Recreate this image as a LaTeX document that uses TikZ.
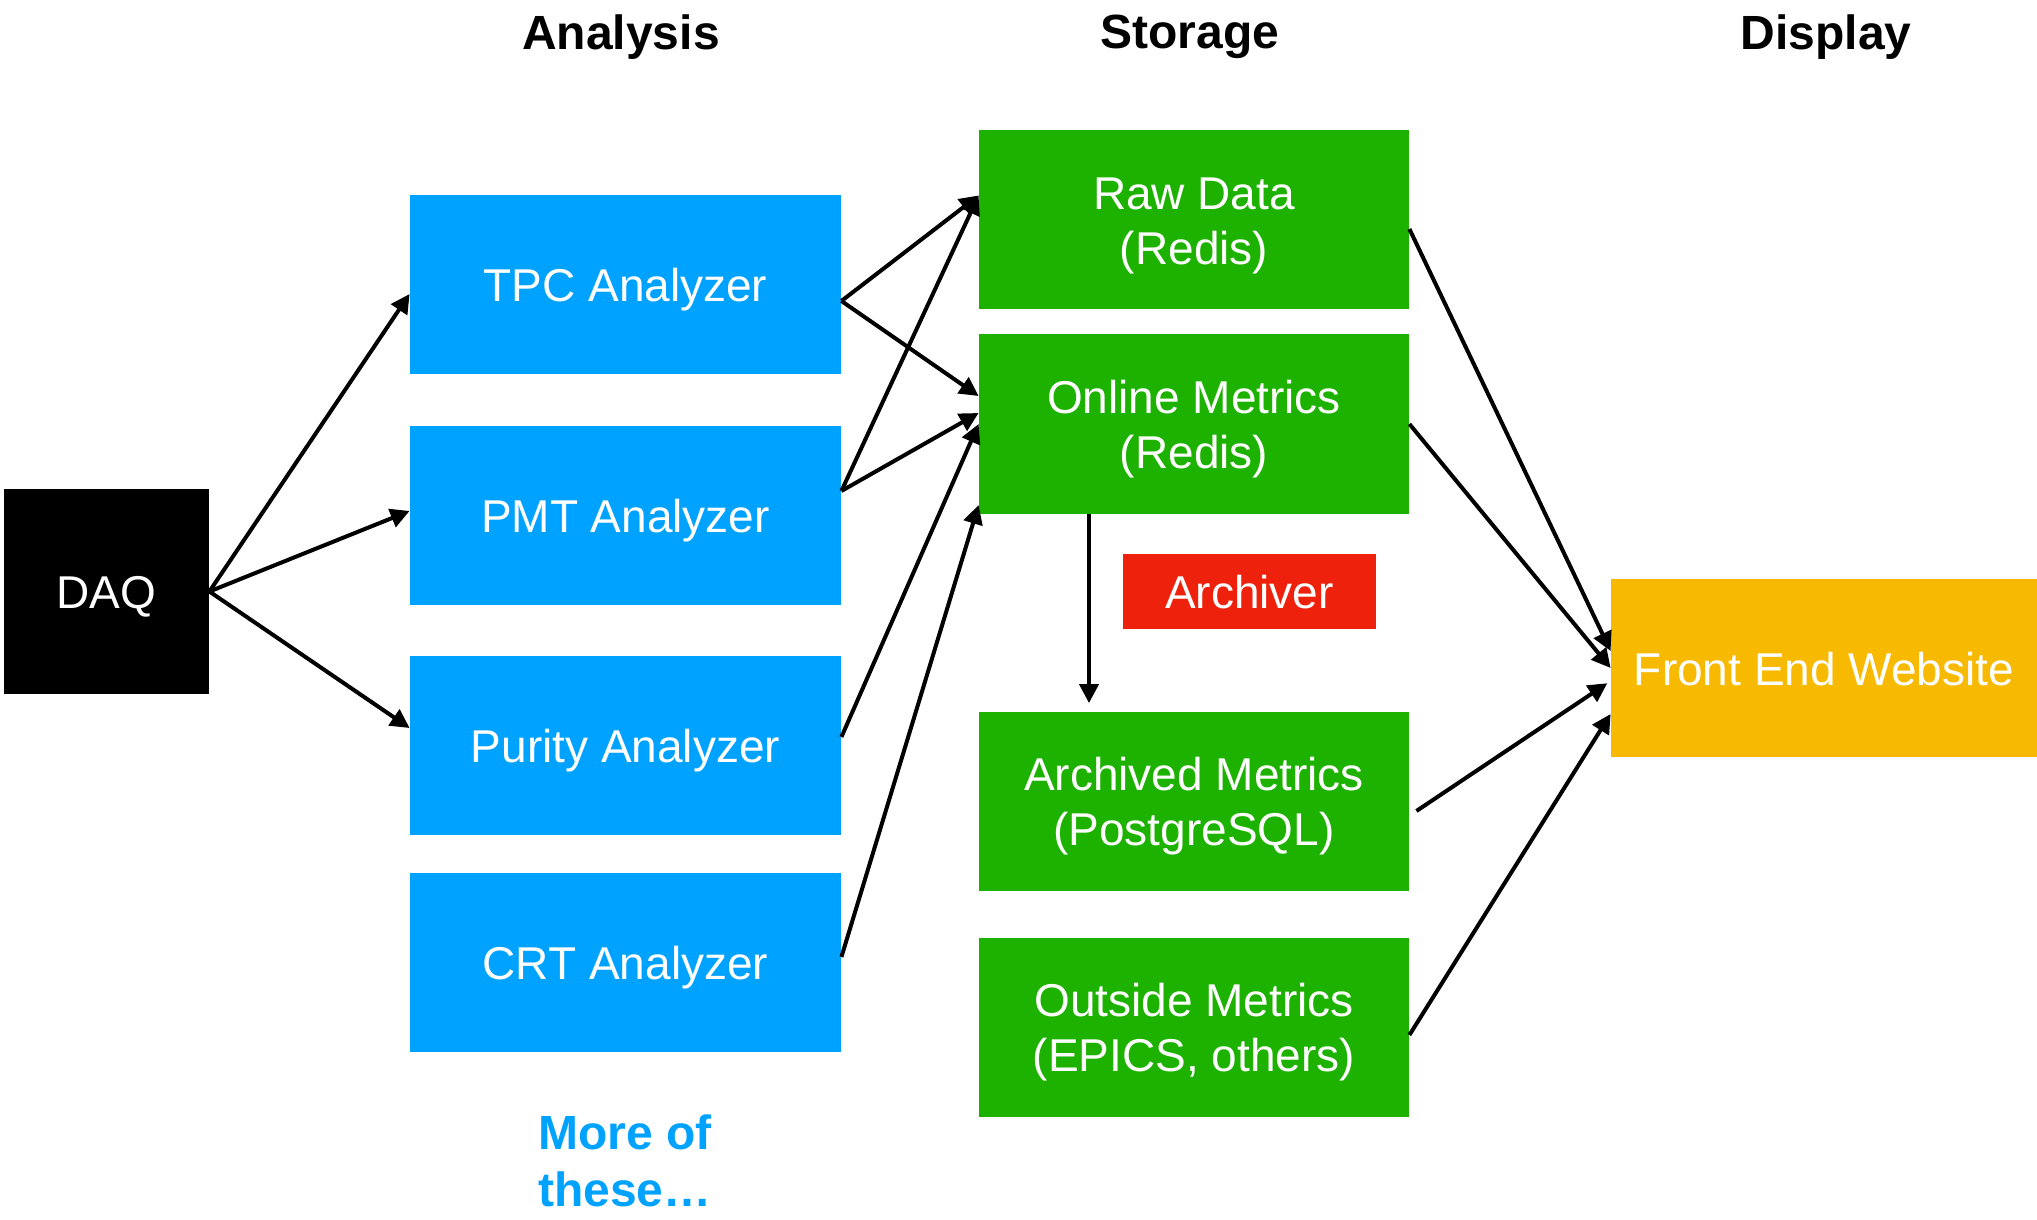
\documentclass[tikz,border=0pt]{standalone}
\usepackage{fontspec}
\setmainfont{Liberation Sans}
\usetikzlibrary{arrows.meta}
\definecolor{keyblue}{RGB}{0,162,255}
\definecolor{keygreen}{RGB}{29,177,0}
\definecolor{keyred}{RGB}{238,34,12}
\definecolor{keyorange}{RGB}{248,186,0}
\tikzset{
  box/.style={rectangle, inner sep=0pt, text=white, align=center, font=\fontsize{23}{27.5}\selectfont,
    text height=20pt, text depth=2.8pt},
  twolines/.style={text height=47.5pt},
  anabox/.style={box, fill=keyblue, minimum width=215.5pt, minimum height=89.5pt},
  storebox/.style={box, twolines, fill=keygreen, minimum width=215pt, minimum height=89.5pt},
  header/.style={font=\fontsize{24}{28}\selectfont\bfseries},
  flow/.style={line width=2pt, -{Triangle[length=9.5pt,width=9.5pt]}},
}

\begin{document}
\begin{tikzpicture}[x=0.5pt, y=-0.5pt]
    \useasboundingbox (0,0) rectangle (2037,1219);

    % column titles
    \node[header] (tana) at (621,37) {Analysis};
    \node[header] (tsto) at (1190,37) {Storage};
    \node[header] (tdis) at (1826,37) {Display};

    \node[box, fill=black, minimum width=102.5pt, minimum height=102.5pt] (daq) at (106.5,591.5) {DAQ};

    % analyzers
    \node[anabox] (tpc) at (625.5,284.5) {TPC Analyzer};
    \node[anabox] (pmt) at (625.5,515) {PMT Analyzer};
    \node[anabox] (purity) at (625.5,745.5) {Purity Analyzer};
    \node[anabox] (crt) at (625.5,962.5) {CRT Analyzer};
    \node[anchor=west, align=left, text=keyblue, font=\fontsize{24}{28.5}\selectfont\bfseries] (more) at (531,1161) {More of\\these…};

    % storage
    \node[storebox] (raw) at (1194,219.5) {Raw Data\\(Redis)};
    \node[storebox] (online) at (1194,424) {Online Metrics\\(Redis)};
    \node[box, fill=keyred, minimum width=126.5pt, minimum height=37.5pt] (archiver) at (1249.5,591.5) {Archiver};
    \node[storebox] (archived) at (1194,801) {Archived Metrics\\(PostgreSQL)};
    \node[storebox] (outside) at (1194,1027) {Outside Metrics\\(EPICS, others)};

    \node[box, fill=keyorange, minimum width=213pt, minimum height=89pt] (front) at (1824,668) {Front End Website};

    % DAQ to analyzers
    \draw[flow] (daq.east) -- ([yshift=-4.75pt]tpc.west);
    \draw[flow] (daq.east) -- ([yshift=2pt]pmt.west);
    \draw[flow] (daq.east) -- ([yshift=8.75pt]purity.west);

    % analyzers to storage
    \draw[flow] ([yshift=-8.25pt]tpc.east) -- ([yshift=12pt]raw.west);
    \draw[flow] ([yshift=-8.25pt]tpc.east) -- ([yshift=14pt]online.west);
    \draw[flow] ([yshift=12pt]pmt.east) -- ([yshift=12pt]raw.west);
    \draw[flow] ([yshift=12pt]pmt.east) -- ([yshift=5.5pt]online.west);
    \draw[flow] ([yshift=4.25pt]purity.east) -- (online.west);
    \draw[flow] ([yshift=2.75pt]crt.east) -- ([yshift=-40.5pt]online.west);

    \draw[flow, shorten >=4pt] ([xshift=-52.5pt]online.south) -- ([xshift=-52.5pt]archived.north);

    % storage to website
    \draw[flow] ([yshift=-4.75pt]raw.east) -- ([yshift=8.5pt]front.west);
    \draw[flow] (online.east) -- (front.west);
    \draw[flow, shorten >=2pt] ([shift={(3.5pt,-5pt)}]archived.east) -- ([yshift=-6.5pt]front.west);
    \draw[flow] ([yshift=-4pt]outside.east) -- ([yshift=-23pt]front.west);
\end{tikzpicture}
\end{document}
